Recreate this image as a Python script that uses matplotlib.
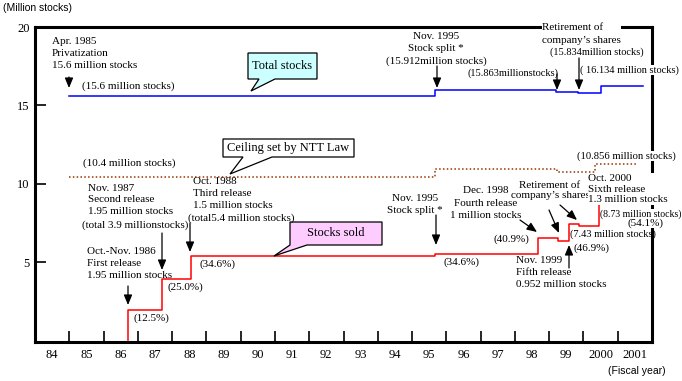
import matplotlib
matplotlib.use('Agg')
import matplotlib.pyplot as plt
from matplotlib.transforms import Affine2D
from matplotlib.patches import Polygon

# step lines (x = fiscal year, y = million stocks)
total_x = [1985.0, 1995.68, 1999.20, 1999.85, 2000.52, 2001.74]
total_y = [15.6, 15.95, 15.83, 15.76, 16.22, 16.22]

ceiling_x = [1985.0, 1995.68, 1999.22, 2000.34, 2001.59]
ceiling_y = [10.45, 10.95, 10.75, 11.25, 11.25]

sold_x = [1986.70, 1986.70, 1987.71, 1988.54, 1995.68, 1998.67, 1999.25, 1999.58, 1999.87, 2000.45, 2001.74]
sold_y = [0, 1.95, 3.9, 5.4, 5.51, 6.51, 6.35, 7.43, 7.28, 8.73, 8.73]

year_labels = ['84', '85', '86', '87', '88', '89', '90', '91', '92', '93',
               '94', '95', '96', '97', '98', '99', '2000', '2001']
y_ticks = [5, 10, 15, 20]

SERIF = 'Liberation Serif'
SANS = 'Liberation Sans'
FS = 8

fig = plt.figure(figsize=(6.82, 3.81), dpi=100)
ax = fig.add_axes([35 / 682, 1 - 342 / 381, 617 / 682, 315 / 381])

# pixel coordinates, origin top-left like the reference picture
pix = Affine2D().scale(1 / 682, -1 / 381).translate(0, 1) + fig.transFigure

ax.plot(total_x, total_y, drawstyle='steps-post', color='#0000ff', lw=1.1)
ax.plot(ceiling_x, ceiling_y, drawstyle='steps-post', color='#993300', lw=1.1,
        linestyle=(0, (1, 1.5)))
ax.plot(sold_x, sold_y, drawstyle='steps-post', color='#ff0000', lw=1.1)

ax.set_xlim(1984, 2002)
ax.set_ylim(-0.1, 20)

# year boundaries as inward ticks, labels centred in each fiscal year
ax.set_xticks(range(1985, 2002))
ax.set_xticklabels([])
ax.set_xticks([1984.5 + i for i in range(len(year_labels))], minor=True)
ax.set_xticklabels(year_labels, minor=True, fontfamily=SERIF, fontsize=9)
ax.tick_params(axis='x', which='major', direction='in', length=8, width=1.2)
ax.tick_params(axis='x', which='minor', length=0, pad=5)
ax.set_yticks(y_ticks)
ax.set_yticklabels([str(v) for v in y_ticks], fontfamily=SERIF, fontsize=9)
ax.tick_params(axis='y', direction='in', length=8, width=1.2, pad=4)
for s in ax.spines.values():
    s.set_linewidth(2.2)


def txt(x, y, s, ha='left', bg=False, size=FS, family=SERIF, ls=1.2, z=5):
    kw = {}
    if bg:
        kw['bbox'] = dict(fc='white', ec='none', pad=0.3)
    fig.text(x, y, s, transform=pix, ha=ha, va='center', fontsize=size,
             fontfamily=family, linespacing=ls, multialignment=ha, zorder=z, **kw)


def arrow(x0, y0, x1, y1):
    ax.annotate('', xy=(x1, y1), xytext=(x0, y0), xycoords=pix, textcoords=pix,
                annotation_clip=False,
                arrowprops=dict(arrowstyle='-|>,head_length=0.6,head_width=0.25',
                                mutation_scale=10, color='black', lw=0.9,
                                shrinkA=0, shrinkB=0))


def callout(box, tail, text, fc, size=9):
    x0, y0, x1, y1 = box
    ta, tb, tip = tail
    pts = [(x0, y0), (x1, y0), (x1, y1), (tb, y1), tip, (ta, y1), (x0, y1)]
    fig.add_artist(Polygon(pts, closed=True, transform=pix, fc=fc, ec='black',
                           lw=0.9, zorder=4))
    txt((x0 + x1) / 2, (y0 + y1) / 2, text, ha='center', size=size)


txt(3, 8, '(Million stocks)', family=SANS, size=7.5)
txt(608, 371, '(Fiscal year)', family=SANS, size=7.5)

# total stocks
txt(52, 53.5, 'Apr. 1985\nPrivatization\n15.6 million stocks', ls=1.4)
arrow(69, 77, 69, 88)
txt(82, 86, '(15.6 million stocks)')
callout((248, 53, 317, 79), (259, 275, (251, 91)), 'Total stocks', '#ccffff')
txt(436, 49, 'Nov. 1995\nStock split *\n(15.912million stocks)', ha='center', ls=1.45)
arrow(437, 66, 437, 88)
txt(467, 73, '(15.863millionstocks)', size=7.5)
arrow(557, 74, 557, 90)
txt(542, 34, 'Retirement of\ncompany\u2019s shares', bg=True, ls=1.5)
txt(550, 52, '(15.834million stocks)', size=7.5)
arrow(579, 58, 579, 90)
txt(580, 70, '( 16.134 million stocks)', bg=True, size=7.5)

# ceiling
txt(83, 163, '(10.4 million stocks)')
callout((223, 139, 354, 157), (243, 272, (230, 174)), 'Ceiling set by NTT Law', 'white')
txt(577, 156, '(10.856 million stocks)', bg=True, size=7.7)

# stocks sold
txt(88, 200, 'Nov. 1987\nSecond release\n1.95 million stocks', ls=1.35)
txt(82, 225, '(total 3.9 millionstocks)')
arrow(162, 233, 162, 270)
txt(87, 263.5, 'Oct.-Nov. 1986\nFirst release\n1.95 million stocks', ls=1.5)
arrow(128, 286, 128, 305)
txt(133, 318, '(12.5%)')
txt(168, 287, '(25.0%)')
txt(193, 193.5, 'Oct. 1988\nThird release\n1.5 million stocks', ls=1.4)
txt(188, 218, '(total5.4 million stocks)')
arrow(190, 223, 190, 252)
txt(200, 264, '(34.6%)')
callout((290, 222, 382, 245), (290, 307, (274, 256)), 'Stocks sold', '#ffccff')
txt(415, 204.5, 'Nov. 1995\nStock split *', ha='center', ls=1.45)
arrow(436, 215, 436, 245)
txt(443, 262, '(34.6%)')
txt(486, 203, 'Dec. 1998\nFourth release\n1 million stocks', ha='center', ls=1.45)
arrow(520, 220, 537, 232)
txt(493, 239, '(40.9%)')
txt(550, 190.5, 'Retirement of\ncompany\u2019s shares', ha='center', ls=1.25)
arrow(549, 210, 559, 233)
arrow(560, 205, 577, 220)
txt(588, 189, 'Oct. 2000\nSixth release\n1.3 million stocks', bg=True, ls=1.25)
txt(600, 214, '(8.73 million stocks)', bg=True, size=7)
txt(628, 223, '(54.1%)', bg=True)
txt(570, 234, '(7.43 million stocks)', size=7.5)
txt(573, 248, '(46.9%)')
arrow(569, 268, 569, 245)
txt(516, 272.5, 'Nov. 1999\nFifth release\n0.952 million stocks', ls=1.4)

fig.savefig('out.png', dpi=100)
